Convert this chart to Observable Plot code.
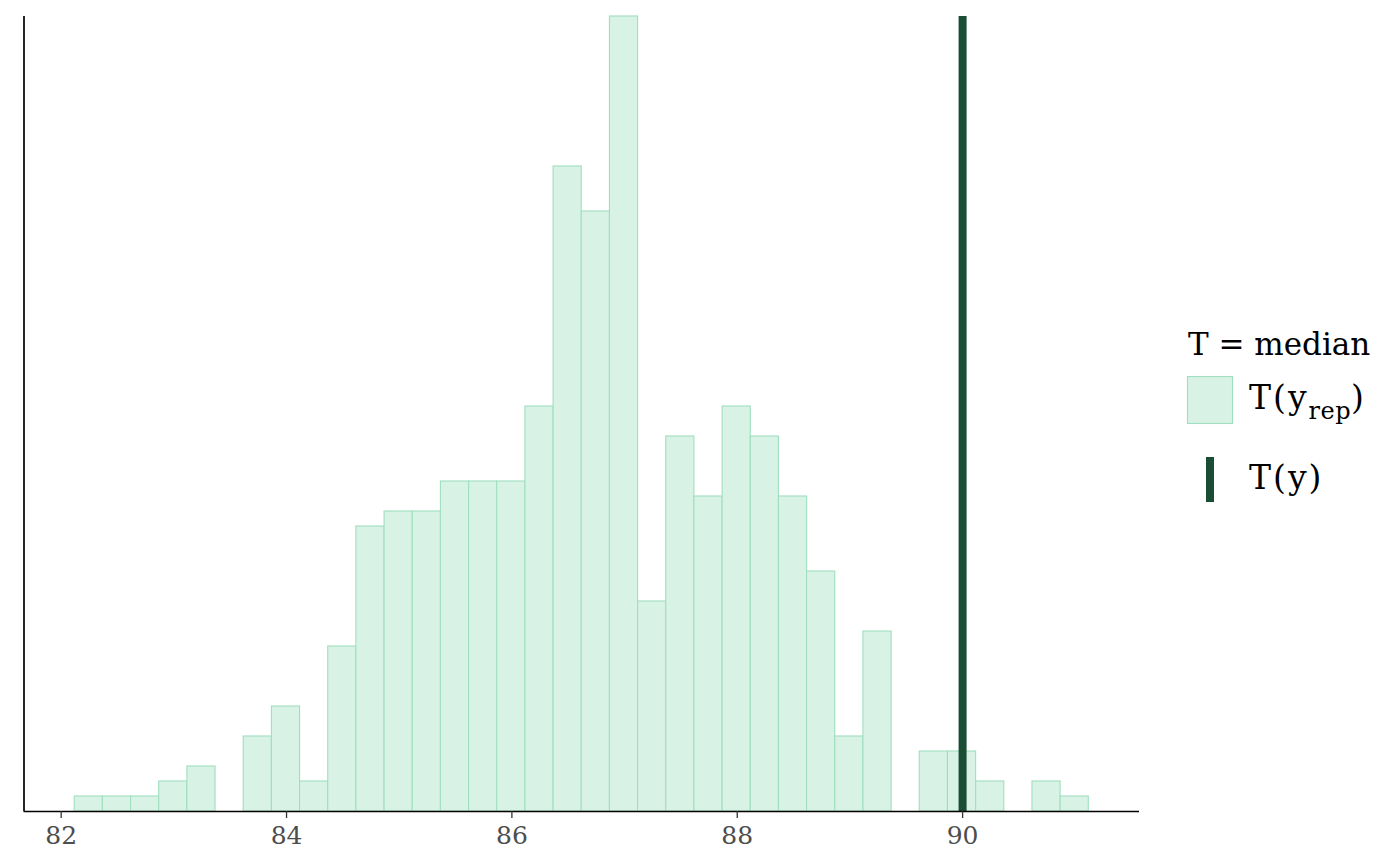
<!DOCTYPE html>
<html>
<head>
<meta charset="utf-8">
<script src="https://cdn.jsdelivr.net/npm/d3@7"></script>
<script src="https://cdn.jsdelivr.net/npm/@observablehq/plot@0.6"></script>
<style>
  html, body { margin: 0; padding: 0; background: #ffffff; }
  #wrap { display: flex; flex-direction: row; width: 1400px; height: 866px; }
  #legend { width: 230px; height: 866px; }
</style>
</head>
<body>
<div id="wrap"><div id="chart"></div><div id="legend"></div></div>
<script>
// Histogram of T(y_rep) = median over 500 posterior predictive draws
const binLower = [82.12, 82.37, 82.62, 82.87, 83.12, 83.37, 83.62, 83.87, 84.12, 84.37,
                  84.62, 84.87, 85.12, 85.37, 85.62, 85.87, 86.12, 86.37, 86.62, 86.87,
                  87.12, 87.37, 87.62, 87.87, 88.12, 88.37, 88.62, 88.87, 89.12, 89.37,
                  89.62, 89.87, 90.12, 90.37, 90.62, 90.87];
const binUpper = [82.37, 82.62, 82.87, 83.12, 83.37, 83.62, 83.87, 84.12, 84.37, 84.62,
                  84.87, 85.12, 85.37, 85.62, 85.87, 86.12, 86.37, 86.62, 86.87, 87.12,
                  87.37, 87.62, 87.87, 88.12, 88.37, 88.62, 88.87, 89.12, 89.37, 89.62,
                  89.87, 90.12, 90.37, 90.62, 90.87, 91.12];
const counts   = [1, 1, 1, 2, 3, 0, 5, 7, 2, 11,
                  19, 20, 20, 22, 22, 22, 27, 43, 40, 53,
                  14, 25, 21, 27, 25, 21, 16, 5, 12, 0,
                  4, 4, 2, 0, 2, 1];
const observedStat = [90.0];
const xTicks = [82, 84, 86, 88, 90];
const xDomain = [81.67, 91.57];
const legendTitle = "T = median";

const bins = binLower.map((x1, i) => ({x1, x2: binUpper[i], count: counts[i]}));

const colLight = "#d9f2e6";
const colLightHi = "#9fdfbf";
const colDark = "#1a4d33";
const fontFam = "'DejaVu Serif', serif";

const chart = Plot.plot({
  width: 1170,
  height: 866,
  marginLeft: 23.5,
  marginRight: 31,
  marginTop: 16,
  marginBottom: 55,
  style: {fontFamily: fontFam, fontSize: "25px", background: "#ffffff"},
  x: {domain: xDomain},
  y: {domain: [0, d3.max(counts)]},
  marks: [
    Plot.rectY(bins, {x1: "x1", x2: "x2", y: "count", fill: colLight, stroke: colLightHi, strokeWidth: 1.1}),
    Plot.ruleX(observedStat, {stroke: colDark, strokeWidth: 8}),
    Plot.ruleY([0], {stroke: "#000000", strokeWidth: 1.7}),
    Plot.ruleX([xDomain[0]], {stroke: "#000000", strokeWidth: 1.7}),
    Plot.axisX({ticks: xTicks, tickSize: 7, tickPadding: 8, stroke: "#333333", fill: "#4d4d4d", strokeWidth: 1.3, label: null, tickFormat: d => String(d)}),
    Plot.axisY({ticks: [], label: null})
  ]
});
document.getElementById("chart").appendChild(chart);

// Legend (right side)
const svg = d3.select("#legend").append("svg")
  .attr("width", 230).attr("height", 866)
  .style("font-family", fontFam);
svg.append("text").attr("x", 18).attr("y", 355)
  .attr("font-size", 31).attr("fill", "#000").text(legendTitle);
svg.append("rect").attr("x", 17.5).attr("y", 376.5).attr("width", 45).attr("height", 47)
  .attr("fill", colLight).attr("stroke", colLightHi).attr("stroke-width", 1.1);
const t1 = svg.append("text").attr("x", 79).attr("y", 409).attr("font-size", 33)
  .attr("letter-spacing", 2).attr("fill", "#000");
t1.append("tspan").text("T(y");
t1.append("tspan").attr("font-size", 24).attr("dy", 10).attr("letter-spacing", 0.5).text("rep");
t1.append("tspan").attr("dy", -10).text(")");
svg.append("rect").attr("x", 36).attr("y", 457).attr("width", 8).attr("height", 45)
  .attr("fill", colDark);
svg.append("text").attr("x", 79).attr("y", 489).attr("font-size", 33)
  .attr("letter-spacing", 2).attr("fill", "#000").text("T(y)");
</script>
</body>
</html>
